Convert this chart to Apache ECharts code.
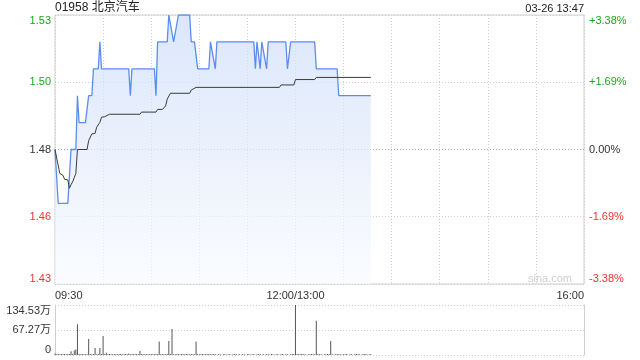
<!DOCTYPE html>
<html><head><meta charset="utf-8">
<script src="https://cdn.jsdelivr.net/npm/echarts@6/dist/echarts.min.js"></script>
<style>html,body{margin:0;padding:0;background:#fff}#c{width:640px;height:360px}</style>
</head><body><div id="c"></div>
<script>
// ---- data (minute index from 09:30, lunch break removed) ----
const titleText = '01958 北京汽车';
const stampText = '03-26 13:47';
const timeTickLabels = {0: '09:30', 150: '12:00/13:00', 330: '16:00'};
const priceTickLabels = ['1.43', '1.46', '1.48', '1.50', '1.53'];
const pctTickLabels = ['-3.38%', '-1.69%', '0.00%', '+1.69%', '+3.38%'];
const volTickLabels = ['0', '67.27万', '134.53万'];
const prevClose = 1.48;

const priceMinutes = [0,2,8,10,13,14,15,19,21,23,24,27,28,29,46,47,48,62,63,64,70,71,72,74,75,77,84,85,87,89,96,97,98,100,101,124,125,126,128,129,130,132,133,144,145,146,147,162,163,176,177,197];
const priceValues = [1.48,1.46,1.46,1.48,1.48,1.50,1.49,1.49,1.50,1.50,1.51,1.51,1.52,1.51,1.51,1.50,1.51,1.51,1.50,1.52,1.52,1.53,1.53,1.52,1.52,1.53,1.53,1.52,1.52,1.51,1.51,1.52,1.52,1.51,1.52,1.52,1.51,1.52,1.51,1.52,1.52,1.51,1.52,1.52,1.51,1.51,1.52,1.52,1.51,1.51,1.50,1.50];

const avgMinutes = [0,3,5,6,8,9,10,11,13,14,20,21,22,23,25,26,27,28,29,31,34,53,54,63,64,67,69,70,72,84,85,88,140,141,149,150,162,163,197];
const avgValues = [1.4800,1.4711,1.4704,1.4689,1.4687,1.4656,1.4669,1.4680,1.4711,1.4800,1.4800,1.4833,1.4835,1.4858,1.4860,1.4883,1.4885,1.4901,1.4920,1.4922,1.4931,1.4931,1.4939,1.4939,1.4949,1.4949,1.4962,1.4987,1.5009,1.5009,1.5021,1.5031,1.5031,1.5040,1.5040,1.5060,1.5060,1.5068,1.5068];

// volume per minute (万), minutes 0..197
const volumes = [
 4,2,3,2,3,2,3,2,3,3,
 10,3,12,15,83,3,2,3,2,2,
 2,43,3,2,3,19,2,3,19,3,
 51,3,6,2,3,2,2,3,2,2,
 2,3,2,2,3,2,4,2,3,2,
 2,3,2,11,3,2,2,3,2,2,
 3,2,2,3,2,36,2,3,2,2,
 3,38,3,70,2,2,3,2,2,3,
 2,2,3,2,2,3,2,2,36,3,
 2,2,3,2,2,2,3,2,2,3,
 2,1,2,2,1,2,3,1,2,2,
 1,2,2,3,1,2,1,2,2,1,
 2,3,1,2,2,1,2,2,3,1,
 2,1,2,2,1,3,2,1,2,2,
 1,2,3,1,2,2,1,2,2,3,
 134.53,3,2,2,3,2,2,1,2,2,
 3,2,2,92,3,2,2,1,2,2,
 3,2,38,2,1,2,3,2,2,1,
 2,2,3,1,2,2,1,2,3,2,
 2,1,2,2,3,1,2,2
];

const GREEN = '#1ea51e', RED = '#f03434', TXT = '#333';
const FONT = '"Liberation Sans", Arial, "Noto Sans CJK SC", sans-serif';

function tickColor(i) { return i > 2 ? GREEN : (i < 2 ? RED : TXT); }

const priceData = priceMinutes.map((m, i) => [m, priceValues[i]]);
const avgData = avgMinutes.map((m, i) => [m, avgValues[i]]);
const volData = volumes.map((v, i) => [i, v]);

const chart = echarts.init(document.getElementById('c'), null, {renderer: 'canvas'});
chart.setOption({
  animation: false,
  textStyle: {fontFamily: FONT},
  title: [
    {text: titleText, left: 55, top: 2, padding: 0, textStyle: {fontSize: 12, fontWeight: 'normal', color: '#222', fontFamily: FONT}},
    {text: stampText, right: 56, top: 3, padding: 0, textStyle: {fontSize: 11, fontWeight: 'normal', color: '#222', fontFamily: FONT}}
  ],
  graphic: [{
    type: 'text', right: 68, top: 273, z: 0,
    style: {text: 'sina.com', fontSize: 11, fill: '#cfcfcf', fontFamily: FONT}
  }],
  grid: [
    {left: 55, right: 56, top: 15, height: 269, show: true, borderColor: '#cfcfcf', borderWidth: 1},
    {left: 55, right: 56, top: 305, height: 50, show: false}
  ],
  xAxis: [
    {type: 'value', gridIndex: 0, min: 0, max: 330, interval: 30,
     axisLine: {show: false}, axisTick: {show: false},
     splitLine: {show: true, lineStyle: {color: '#cfcfcf', type: [1, 2]}},
     axisLabel: {show: true, margin: 6, fontSize: 11, color: TXT, fontFamily: FONT,
       showMinLabel: true, showMaxLabel: true, alignMinLabel: 'left', alignMaxLabel: 'right',
       formatter: v => timeTickLabels[v] || ''}},
    {type: 'value', gridIndex: 1, min: 0, max: 330, interval: 30,
     axisLine: {show: false}, axisTick: {show: false}, axisLabel: {show: false}, splitLine: {show: false}}
  ],
  yAxis: [
    {type: 'value', gridIndex: 0, min: 1.43, max: 1.53, interval: 0.025, position: 'left',
     axisLine: {show: false}, axisTick: {show: false},
     splitLine: {show: true, lineStyle: {color: ['#cfcfcf', '#cfcfcf', '#aaaaaa', '#cfcfcf', '#cfcfcf'], type: [1, 2]}},
     axisLabel: {margin: 4, fontSize: 11, fontFamily: FONT,
       verticalAlignMinLabel: 'bottom', verticalAlignMaxLabel: 'top',
       formatter: (v, i) => priceTickLabels[i], color: (v, i) => tickColor(i)}},
    {type: 'value', gridIndex: 0, min: 1.43, max: 1.53, interval: 0.025, position: 'right',
     axisLine: {show: false}, axisTick: {show: false}, splitLine: {show: false},
     axisLabel: {margin: 5, fontSize: 11, fontFamily: FONT,
       verticalAlignMinLabel: 'bottom', verticalAlignMaxLabel: 'top',
       formatter: (v, i) => pctTickLabels[i], color: (v, i) => tickColor(i)}},
    {type: 'value', gridIndex: 1, min: 0, max: 134.53, interval: 67.265, position: 'left',
     axisLine: {show: true, lineStyle: {color: '#cfcfcf'}}, axisTick: {show: false},
     splitLine: {show: true, lineStyle: {color: '#cfcfcf', type: [1, 2]}},
     axisLabel: {margin: 4, fontSize: 11, color: TXT, fontFamily: FONT,
       verticalAlignMinLabel: 'bottom', verticalAlignMaxLabel: 'top',
       formatter: (v, i) => volTickLabels[i]}},
    {type: 'value', gridIndex: 1, min: 0, max: 134.53, interval: 67.265, position: 'right',
     axisLine: {show: true, lineStyle: {color: '#cfcfcf'}}, axisTick: {show: false},
     splitLine: {show: false}, axisLabel: {show: false}}
  ],
  series: [
    {type: 'line', xAxisIndex: 0, yAxisIndex: 0, data: priceData, showSymbol: false, z: 3,
     lineStyle: {color: '#5b8def', width: 1.3},
     areaStyle: {origin: 'start', color: new echarts.graphic.LinearGradient(0, 0, 0, 1, [
       {offset: 0, color: '#cbdcf8'}, {offset: 1, color: '#f8fafe'}])}},
    {type: 'line', xAxisIndex: 0, yAxisIndex: 0, data: avgData, showSymbol: false, z: 4,
     lineStyle: {color: '#3a3a3a', width: 1}},
    {type: 'bar', xAxisIndex: 1, yAxisIndex: 2, data: volData, barWidth: 1, barGap: '-100%',
     itemStyle: {color: '#555'}}
  ]
});
</script></body></html>
